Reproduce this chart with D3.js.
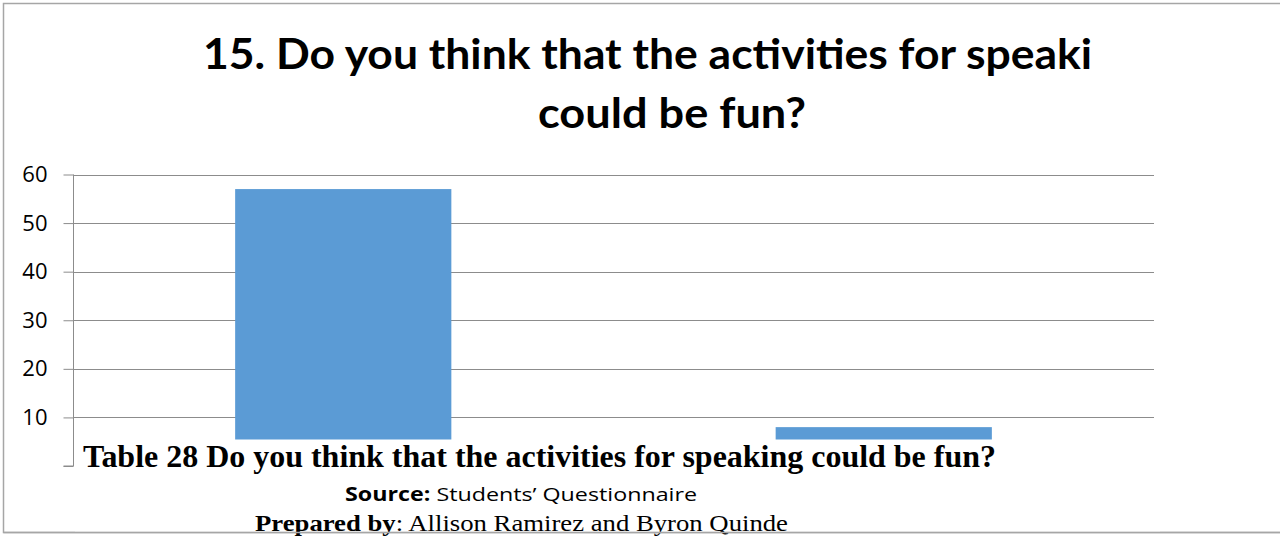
<!DOCTYPE html>
<html>
<head>
<meta charset="utf-8">
<script src="https://cdn.jsdelivr.net/npm/d3@7"></script>
<style>
  html, body { margin: 0; padding: 0; background: #fff; }
  svg { display: block; }
</style>
</head>
<body>
<svg id="chart" width="1280" height="537"></svg>
<script>
// Survey answers for question 15
const categories = ["Yes", "No"];
const counts = [57, 8];
const yTicks = [10, 20, 30, 40, 50, 60];

const titleLines = ["15. Do you think that the activities for speaki", "could be fun?"];
const captionTitle = "Table 28 Do you think that the activities for speaking could be fun?";
const sourceLabel = "Source:";
const sourceText = " Students’ Questionnaire";
const preparedLabel = "Prepared by";
const preparedText = ": Allison Ramirez and Byron Quinde";

const svg = d3.select("#chart");
const W = 1280, H = 537;
const plot = { left: 73, right: 1154, top: 174.5, bottom: 466 };

svg.append("rect").attr("width", W).attr("height", H).attr("fill", "#fff");

// Outer frame (top, left, bottom edges)
const frame = svg.append("g").attr("stroke", "#a6a6a6").attr("stroke-width", 1.5).attr("fill", "none");
frame.append("path").attr("d", `M${W + 5},3.5 L3.5,3.5 L3.5,532.5 L${W + 5},532.5`);

const x = d3.scaleBand()
  .domain(categories)
  .range([plot.left, plot.right])
  .paddingInner(0.6)
  .paddingOuter(0.3);

const y = d3.scaleLinear().domain([0, 60]).range([plot.bottom, plot.top]);

// Horizontal gridlines
svg.append("g")
  .selectAll("line")
  .data(yTicks)
  .join("line")
  .attr("x1", plot.left)
  .attr("x2", plot.right)
  .attr("y1", d => Math.round(y(d)) + 0.5)
  .attr("y2", d => Math.round(y(d)) + 0.5)
  .attr("stroke", "#8c8c8c")
  .attr("stroke-width", 1);

// Y axis
const yAxis = svg.append("g")
  .attr("transform", `translate(${plot.left + 0.5},0)`)
  .call(d3.axisLeft(y).tickValues([0, ...yTicks]).tickSize(10).tickPadding(16)
    .tickFormat(d => d === 0 ? "" : d));
yAxis.select(".domain").attr("stroke", "#8c8c8c").attr("d", `M-10,${plot.bottom}H0V${plot.top}`);
yAxis.selectAll(".tick line").attr("stroke", "#8c8c8c");
yAxis.selectAll(".tick text")
  .attr("fill", "#000")
  .style("font-family", "'Open Sans', 'Noto Sans', sans-serif")
  .style("font-size", "22px");

// Bars
svg.append("g")
  .selectAll("rect")
  .data(counts)
  .join("rect")
  .attr("x", (d, i) => x(categories[i]))
  .attr("width", x.bandwidth())
  .attr("y", d => y(d))
  .attr("height", d => y(0) - y(d))
  .attr("fill", "#5b9bd5");

// Title
const title = svg.append("g")
  .style("font-family", "Lato, 'Open Sans', sans-serif")
  .style("font-weight", "bold")
  .style("font-size", "42px")
  .attr("fill", "#000");
title.append("text").attr("x", 203).attr("y", 69)
  .attr("textLength", 889).attr("lengthAdjust", "spacingAndGlyphs")
  .text(titleLines[0]);
title.append("text").attr("x", 538).attr("y", 128)
  .attr("textLength", 268).attr("lengthAdjust", "spacingAndGlyphs")
  .text(titleLines[1]);

// Caption block laid over the lower part of the chart
svg.append("rect")
  .attr("x", plot.left + 2).attr("y", 439.5)
  .attr("width", 1085).attr("height", 92)
  .attr("fill", "#fff");

svg.append("text")
  .attr("x", 83).attr("y", 467)
  .attr("textLength", 913).attr("lengthAdjust", "spacingAndGlyphs")
  .style("font-family", "'Liberation Serif', 'Times New Roman', serif")
  .style("font-weight", "bold")
  .style("font-size", "31px")
  .attr("fill", "#000")
  .text(captionTitle);

const src = svg.append("text")
  .attr("x", 345).attr("y", 501)
  .attr("textLength", 352).attr("lengthAdjust", "spacingAndGlyphs")
  .style("font-family", "'Open Sans', 'Noto Sans', sans-serif")
  .style("font-size", "19px")
  .attr("fill", "#000");
src.append("tspan").style("font-weight", "bold").text(sourceLabel);
src.append("tspan").text(sourceText);

const prep = svg.append("text")
  .attr("x", 255).attr("y", 531)
  .attr("textLength", 533).attr("lengthAdjust", "spacingAndGlyphs")
  .style("font-family", "'Liberation Serif', 'Times New Roman', serif")
  .style("font-size", "23px")
  .attr("fill", "#000");
prep.append("tspan").style("font-weight", "bold").text(preparedLabel);
prep.append("tspan").text(preparedText);

// Bottom frame edge drawn over the caption
svg.append("line")
  .attr("x1", 3.5).attr("x2", W + 5)
  .attr("y1", 532.5).attr("y2", 532.5)
  .attr("stroke", "#a6a6a6").attr("stroke-width", 1.5);
</script>
</body>
</html>
